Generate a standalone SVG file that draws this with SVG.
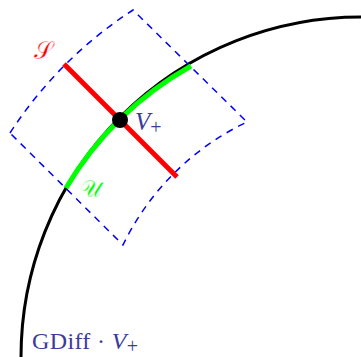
<svg xmlns="http://www.w3.org/2000/svg" width="361" height="357" viewBox="0 0 361 357">
<style>
.circle{fill:none;stroke:#000;stroke-width:3}
.nbhd{fill:none;stroke:#0000ff;stroke-width:1.5;stroke-dasharray:7,6}
.u{fill:none;stroke:#00ff00;stroke-width:5}
.s{fill:none;stroke:#ff0000;stroke-width:5}
.lbl{font-family:"Liberation Serif","DejaVu Serif",serif;fill:#3c3c98}
.it{font-style:italic}
.sub{font-size:20px}
.cal{font-family:"DejaVu Serif","DejaVu Sans",serif;font-size:24px;stroke:#fff;stroke-width:0.4}
</style>
<rect width="361" height="357" fill="#fff"/>
<g id="connectors">
<path class="circle" d="M 21 357 A 340 340 0 0 1 361 17"/>
</g>
<g id="neighborhood">
<path class="nbhd" d="M 10 133 A 416 416 0 0 1 133 10 L 247 122 A 262 262 0 0 0 123 245 Z"/>
</g>
<g id="U">
<path class="u" d="M 66 188 A 340 340 0 0 1 191 66"/>
<text class="cal" x="80" y="197" fill="#00ff00">𝒰</text>
</g>
<g id="S">
<line class="s" x1="64" y1="64" x2="177" y2="177"/>
<text class="cal" x="34" y="59" fill="#ff0000">𝒮</text>
</g>
<g id="Vplus">
<circle cx="120" cy="120" r="8" fill="#000"/>
<text class="lbl" x="135" y="130" font-size="25"><tspan class="it">V</tspan><tspan class="sub" dy="4">+</tspan></text>
</g>
<g id="orbit-label">
<text class="lbl" x="32" y="349" font-size="24" textLength="106" lengthAdjust="spacing">GDiff · <tspan class="it">V</tspan><tspan class="sub" dy="4">+</tspan></text>
</g>
</svg>
